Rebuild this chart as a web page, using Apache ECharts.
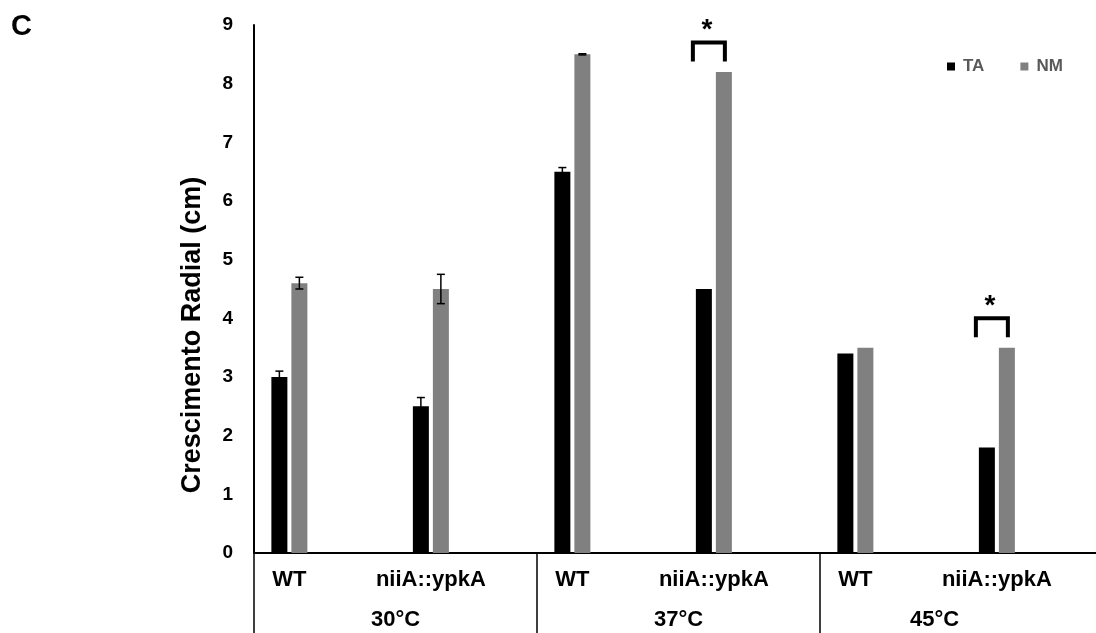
<!DOCTYPE html>
<html>
<head>
<meta charset="utf-8">
<script src="https://cdn.jsdelivr.net/npm/echarts@6/dist/echarts.min.js"></script>
<style>
  html, body { margin: 0; padding: 0; background: #fff; }
  #chart { width: 1096px; height: 633px; }
</style>
</head>
<body>
<div id="chart"></div>
<script>
// ---- data ----
const strains = ['WT', 'niiA::ypkA', 'WT', 'niiA::ypkA', 'WT', 'niiA::ypkA'];
const temperatures = ['30°C', '37°C', '45°C'];
const taValues = [3.0, 2.5, 6.5, 4.5, 3.4, 1.8];
const nmValues = [4.6, 4.5, 8.5, 8.2, 3.5, 3.5];
const taErrors = [0.1, 0.15, 0.07, 0, 0, 0];
const nmErrors = [0.1, 0.25, 0.01, 0, 0, 0];
const sigGroups = [3, 5];        // strain index with significant difference
const sigTops = [8.7, 4.0];      // bracket height (cm)
const yMin = 0, yMax = 9, yStep = 1;

// ---- build slot tables (each strain occupies one slot + one empty slot) ----
const slots = [];
const taSlots = [], nmSlots = [];
strains.forEach((s, i) => {
  slots.push('s' + i + ':' + s); slots.push('gap' + i);
  taSlots.push(taValues[i], null);
  nmSlots.push(nmValues[i], null);
});
const taErr = taValues.map((v, i) => [i * 2, v, taErrors[i]]).filter(d => d[2] > 0);
const nmErr = nmValues.map((v, i) => [i * 2, v, nmErrors[i]]).filter(d => d[2] > 0);
const sigData = sigGroups.map((g, i) => [g * 2, sigTops[i]]);

const FONT = '"Liberation Sans", Arial, sans-serif';
const BAR_W = 16, BAR_OFF = 10;

function errRenderer(offset) {
  return function (params, api) {
    const x = api.coord([api.value(0), api.value(1)])[0] + offset;
    const top = api.coord([api.value(0), api.value(1) + api.value(2)])[1];
    const bot = api.coord([api.value(0), api.value(1) - api.value(2)])[1];
    const style = { stroke: '#000', lineWidth: 1.5 };
    return {
      type: 'group',
      children: [
        { type: 'line', shape: { x1: x, y1: top, x2: x, y2: bot }, style },
        { type: 'line', shape: { x1: x - 4, y1: top, x2: x + 4, y2: top }, style },
        { type: 'line', shape: { x1: x - 4, y1: bot, x2: x + 4, y2: bot }, style }
      ]
    };
  };
}

function sigRenderer(params, api) {
  const p = api.coord([api.value(0), api.value(1)]);
  const cx = p[0] - 5, y = p[1];
  return {
    type: 'group',
    children: [
      { type: 'polyline',
        shape: { points: [[cx - 16, y + 19], [cx - 16, y], [cx + 16, y], [cx + 16, y + 19]] },
        style: { stroke: '#000', lineWidth: 4, fill: null } },
      { type: 'text',
        style: { text: '*', x: cx - 2, y: y - 12, fontSize: 28, fontWeight: 'bold',
                 fontFamily: FONT, fill: '#000', align: 'center', verticalAlign: 'middle' } }
    ]
  };
}

const chart = echarts.init(document.getElementById('chart'), null, { renderer: 'canvas' });
chart.setOption({
  animation: false,
  backgroundColor: '#fff',
  graphic: [{
    type: 'text', left: 11, top: 12,
    style: { text: 'C', fontSize: 29, fontWeight: 'bold', fontFamily: FONT, fill: '#000' }
  }],
  legend: {
    data: ['TA', 'NM'],
    left: 947, top: 58, padding: 0,
    itemWidth: 8, itemHeight: 8, itemGap: 36,
    icon: 'rect',
    textStyle: { fontSize: 17, fontWeight: 'bold', color: '#595959', fontFamily: FONT, padding: [0, 0, 0, 3] }
  },
  grid: { left: 254, top: 25, width: 849, height: 528, outerBoundsMode: 'none', containLabel: false },
  xAxis: [{
    type: 'category',
    data: slots,
    axisLine: { lineStyle: { color: '#000', width: 2 } },
    axisTick: { show: false },
    axisLabel: {
      interval: 0, margin: 16,
      fontSize: 22, fontWeight: 'bold', color: '#000', fontFamily: FONT,
      formatter: v => v.startsWith('gap') ? '' : v.slice(v.indexOf(':') + 1)
    },
    splitLine: { show: false }
  }, {
    type: 'category',
    data: temperatures,
    position: 'bottom',
    offset: 80,
    axisLine: { show: false },
    axisTick: { show: true, inside: true, length: 80, lineStyle: { color: '#000', width: 1.5 } },
    axisLabel: {
      inside: true, margin: 2,
      fontSize: 22, fontWeight: 'bold', color: '#000', fontFamily: FONT,
      formatter: (v, i) => i === 2 ? '{s|' + v + '}' : v,
      rich: { s: { fontSize: 22, fontWeight: 'bold', fontFamily: FONT, color: '#000', padding: [0, 54, 0, 0] } }
    },
    splitLine: { show: false }
  }],
  yAxis: {
    type: 'value',
    min: yMin, max: yMax, interval: yStep,
    name: 'Crescimento Radial (cm)',
    nameLocation: 'middle', nameGap: 48,
    nameTextStyle: { fontSize: 27, fontWeight: 'bold', color: '#000', fontFamily: FONT, padding: [0, 92, 0, 0] },
    axisLine: { show: true, lineStyle: { color: '#000', width: 2 } },
    axisTick: { show: false },
    splitLine: { show: false },
    axisLabel: { margin: 21, fontSize: 19, fontWeight: 'bold', color: '#000', fontFamily: FONT }
  },
  series: [
    { name: 'TA', type: 'bar', data: taSlots, barWidth: BAR_W, barGap: '25%',
      itemStyle: { color: '#000' } },
    { name: 'NM', type: 'bar', data: nmSlots, barWidth: BAR_W, barGap: '25%',
      itemStyle: { color: '#808080' } },
    { name: 'TA err', type: 'custom', data: taErr, renderItem: errRenderer(-BAR_OFF), z: 5, silent: true },
    { name: 'NM err', type: 'custom', data: nmErr, renderItem: errRenderer(BAR_OFF), z: 5, silent: true },
    { name: 'sig', type: 'custom', data: sigData, renderItem: sigRenderer, z: 5, silent: true }
  ]
});
</script>
</body>
</html>
